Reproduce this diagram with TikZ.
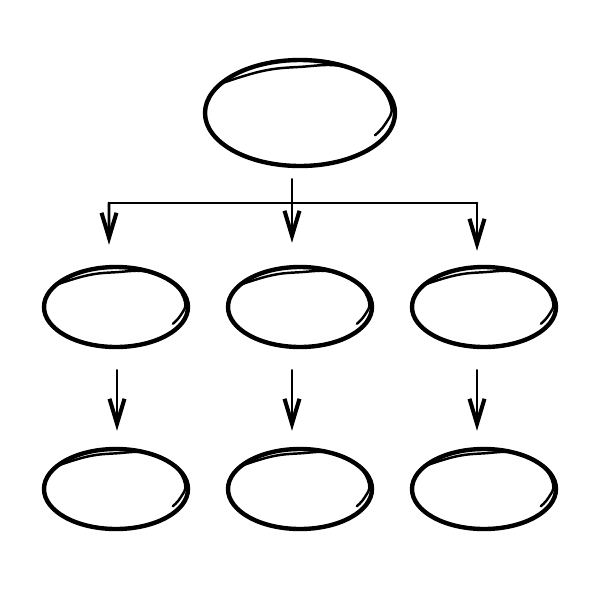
\documentclass[tikz,border=0pt]{standalone}
\usepackage{tikz}
\usetikzlibrary{shapes.geometric,arrows.meta,calc,positioning}

\begin{document}
\begin{tikzpicture}[line cap=round, line join=round]
   \useasboundingbox (0,0) rectangle (12,-12);
   \begin{scope}[every node/.style={ellipse,draw=black,line width=2.5pt,inner sep=0pt,minimum width=2.88cm,minimum height=1.6cm}]
    \node (top) [minimum width=3.8cm,minimum height=2.12cm] at (6,-2.26) {};
    \node (l2) at (2.32,-6.14) {};
    \node (m2) at (6,-6.14) {};
    \node (r2) at (9.68,-6.14) {};
    \node (l3) at (2.32,-9.78) {};
    \node (m3) at (6,-9.78) {};
    \node (r3) at (9.68,-9.78) {};
   \end{scope}
   % second pencil stroke on every oval
   \foreach \n/\rx/\ry in {top/1.9/1.06, l2/1.44/0.8, m2/1.44/0.8, r2/1.44/0.8, l3/1.44/0.82, m3/1.44/0.82, r3/1.44/0.82}
    \draw[line width=1.4pt, shift={(\n.center)}, xscale=\rx, yscale=\ry] plot[smooth, tension=0.7] coordinates {(-0.84,0.55) (-0.4,0.79) (0,0.87) (0.45,0.88) (0.8,0.58) (0.96,0.12) (0.9,-0.2) (0.79,-0.42)};
   \coordinate (bl) at (2.18,-4.06);
   \coordinate (br) at (9.54,-4.06);
   \begin{scope}[line width=1.5pt, every path/.style={-{Straight Barb[length=5mm,width=3mm,line width=2.3pt]}}]
    \draw[-] (bl) -- (br);
    \draw[shorten <=2.2mm, shorten >=4.4mm] ([xshift=-1.6mm]top.south) -- ([xshift=-1.6mm]m2.north);
    \draw[shorten >=4mm] (bl) -- ([xshift=-1.4mm]l2.north);
    \draw[shorten >=2.8mm] (br) -- ([xshift=-1.4mm]r2.north);
    \draw[shorten <=4.2mm, shorten >=3.2mm] ([xshift=0.2mm]l2.south) -- ([xshift=0.2mm]l3.north);
    \draw[shorten <=4.2mm, shorten >=3.2mm] ([xshift=-1.6mm]m2.south) -- ([xshift=-1.6mm]m3.north);
    \draw[shorten <=4.2mm, shorten >=3.2mm] ([xshift=-1.4mm]r2.south) -- ([xshift=-1.4mm]r3.north);
   \end{scope}
\end{tikzpicture}
\end{document}
